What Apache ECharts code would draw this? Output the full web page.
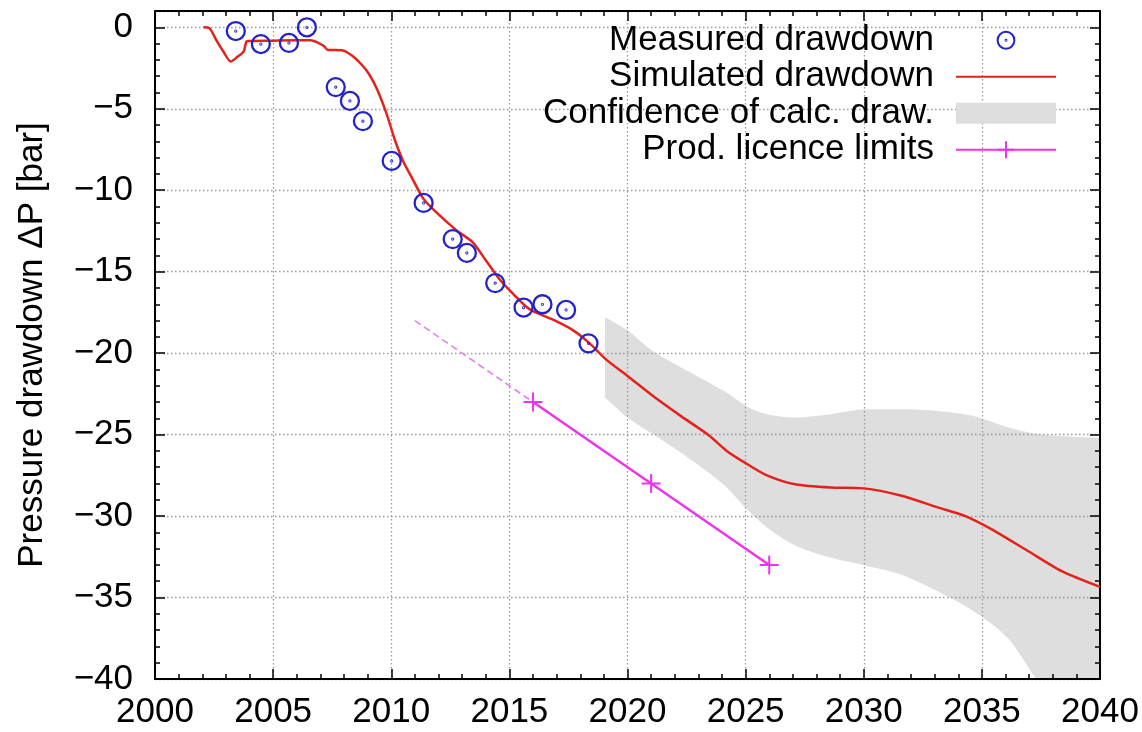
<!DOCTYPE html>
<html><head><meta charset="utf-8">
<script src="https://cdn.jsdelivr.net/npm/echarts@6/dist/echarts.min.js"></script>
<style>html,body{margin:0;padding:0;background:#fff}#c{width:1142px;height:732px}</style>
</head><body><div id="c"></div>
<script>
// ---- data ----
const measuredYears  = [2003.42, 2004.48, 2005.67, 2006.43, 2007.65, 2008.25, 2008.8, 2010.02, 2011.37, 2012.6, 2013.2, 2014.4, 2015.6, 2016.4, 2017.4, 2018.35];
const measuredValues = [-0.23, -1.03, -0.96, 0.0, -3.67, -4.52, -5.76, -8.2, -10.78, -13.0, -13.85, -15.7, -17.2, -17.0, -17.35, -19.4];

const simYears  = [2002.05, 2002.3, 2002.6, 2002.9, 2003.2, 2003.5, 2003.75, 2003.87, 2004.0, 2005, 2006, 2006.6, 2006.9, 2007.15, 2007.3, 2007.95, 2008.35, 2008.75, 2009.05, 2009.4, 2009.8, 2010.15, 2010.5, 2010.9, 2011.35, 2011.9, 2012.75, 2013.45, 2014.0, 2014.6, 2015.15, 2015.85, 2016.85, 2017.7, 2018.4, 2019.1, 2020, 2021.05, 2022.25, 2023.45, 2024.2, 2025, 2025.9, 2027.1, 2028.6, 2030, 2031.6, 2033.1, 2034.3, 2035.4, 2036.9, 2038.4, 2040];
const simValues = [0, -0.05, -0.8, -1.5, -2.1, -1.8, -1.5, -0.88, -0.84, -0.82, -0.8, -0.8, -0.95, -1.15, -1.38, -1.42, -1.75, -2.3, -2.85, -3.8, -5.3, -6.9, -8.2, -9.3, -10.5, -11.35, -12.45, -13.2, -14.3, -15.5, -16.35, -17.3, -17.95, -18.6, -19.4, -20.4, -21.4, -22.6, -23.85, -25.05, -26.0, -26.75, -27.5, -28.05, -28.25, -28.3, -28.75, -29.45, -30.0, -30.8, -32.1, -33.4, -34.35];

const bandYears = [2019.05, 2020, 2021.05, 2022.55, 2024.05, 2025.1, 2025.9, 2027.1, 2028.6, 2030.1, 2031.6, 2033.1, 2034.6, 2036.1, 2037.3, 2038.5, 2040];
const bandUpper = [-17.8, -18.6, -19.85, -21.1, -22.3, -23.3, -23.75, -23.95, -23.75, -23.45, -23.45, -23.55, -23.85, -24.55, -24.95, -25.1, -25.2];
const bandLower = [-22.7, -23.95, -24.95, -26.4, -28.05, -29.65, -30.7, -31.8, -32.55, -33.05, -33.6, -34.6, -35.8, -37.5, -40, -42.3, -44.5];

const licenceYears  = [2016, 2021, 2026];
const licenceValues = [-23, -28, -33];
const trendYears  = [2011, 2016];
const trendValues = [-18, -23];

const xMin = 2000, xMax = 2040, xStep = 5;
const yMin = -40, yMax = 1, yStep = 5;

// ---- chart ----
const FONT = 'Liberation Sans, Arial, Helvetica, sans-serif';
const zip = (a, b) => a.map((v, i) => [v, b[i]]);
const minus = v => String(v).replace('-', '\u2212');
const ring = 'path://M0,10A10,10,0,1,1,20,10A10,10,0,1,1,0,10ZM9.5,10A0.5,0.5,0,1,1,10.5,10A0.5,0.5,0,1,1,9.5,10Z';
const cross = 'path://M0,10L20,10M10,0L10,20';

const axisLine = {show: true, onZero: false, lineStyle: {color: '#000', width: 2}};
const major = {show: true, inside: true, length: 10, lineStyle: {color: '#000', width: 1.5}};
const minorX = {show: true, splitNumber: 5, length: 5, lineStyle: {color: '#000', width: 1.5}};
const minorY = {show: true, inside: true, length: 5, lineStyle: {color: '#000', width: 1.5}};
const grid = {show: true, lineStyle: {color: '#9a9a9a', width: 1.3, type: [1.5, 2.5]}};

const chart = echarts.init(document.getElementById('c'), null, {renderer: 'canvas'});
chart.setOption({
  animation: false,
  backgroundColor: '#fff',
  grid: {left: 155, right: 42, top: 11, bottom: 53, containLabel: false},
  xAxis: [
    {type: 'value', position: 'bottom', min: xMin, max: xMax, interval: xStep, z: 3,
     axisLine, axisTick: major, minorTick: minorX, splitLine: grid,
     axisLabel: {fontFamily: FONT, fontSize: 35, color: '#000', margin: 16, formatter: v => String(v)}},
    {type: 'value', position: 'top', min: xMin, max: xMax, interval: xStep, z: 3,
     axisLine, axisTick: major, minorTick: minorX, splitLine: {show: false},
     axisLabel: {show: false}}
  ],
  yAxis: [
    {type: 'value', position: 'left', min: yMin, max: yMax, interval: yStep, z: 3,
     axisLine, axisTick: major, splitLine: grid,
     axisLabel: {fontFamily: FONT, fontSize: 35, color: '#000', margin: 22,
       formatter: v => (v % yStep === 0 ? minus(v) : '')},
     name: 'Pressure drawdown \u0394P [bar]', nameLocation: 'middle', nameGap: 105,
     nameTextStyle: {fontFamily: FONT, fontSize: 35, color: '#000'}},
    {type: 'value', position: 'left', min: yMin, max: yMax, interval: 1, z: 3,
     axisLine: {show: false}, axisTick: minorY, splitLine: {show: false}, axisLabel: {show: false}},
    {type: 'value', position: 'right', min: yMin, max: yMax, interval: yStep, z: 3,
     axisLine, axisTick: major, splitLine: {show: false}, axisLabel: {show: false}},
    {type: 'value', position: 'right', min: yMin, max: yMax, interval: 1, z: 3,
     axisLine: {show: false}, axisTick: minorY, splitLine: {show: false}, axisLabel: {show: false}}
  ],
  legend: {
    data: [
      {name: 'Measured drawdown'},
      {name: 'Simulated drawdown', itemStyle: {opacity: 0}},
      {name: 'Confidence of calc. draw.', icon: 'rect'},
      {name: 'Prod. licence limits'}
    ],
    orient: 'vertical', align: 'right', right: 85, top: 22, padding: 0, itemGap: 0,
    itemWidth: 100, itemHeight: 21, selectedMode: false,
    textStyle: {fontFamily: FONT, fontSize: 35, color: '#000', lineHeight: 36.5, padding: [0, 17, 0, 0]}
  },
  series: [
    {type: 'line', name: 'Confidence of calc. draw.', data: zip(bandYears, bandUpper), symbol: 'none', smooth: 0.3,
     color: '#dedede', lineStyle: {opacity: 0, width: 0},
     areaStyle: {color: '#dedede', opacity: 1, origin: 'start'}, silent: true, z: 1},
    {type: 'line', name: 'bandLower', data: zip(bandYears, bandLower), symbol: 'none', smooth: 0.3,
     color: '#ffffff', lineStyle: {opacity: 0, width: 0},
     areaStyle: {color: '#ffffff', opacity: 1, origin: 'start'}, silent: true, z: 2},
    {type: 'line', name: 'trend', data: zip(trendYears, trendValues), symbol: 'none',
     lineStyle: {color: '#e386ec', width: 1.6, type: [7, 4]}, z: 4},
    {type: 'line', name: 'Prod. licence limits', data: zip(licenceYears, licenceValues),
     symbol: cross, symbolSize: 19, showSymbol: true, color: '#ee33ee',
     lineStyle: {color: '#ee33ee', width: 2.5},
     itemStyle: {color: '#ee33ee', borderColor: '#ee33ee', borderWidth: 2}, z: 5},
    {type: 'line', name: 'Simulated drawdown', data: zip(simYears, simValues), symbol: 'none', smooth: 0.25,
     color: '#e4221c', lineStyle: {color: '#e4221c', width: 2.5}, z: 5},
    {type: 'line', name: 'Measured drawdown', data: zip(measuredYears, measuredValues),
     symbol: ring, symbolSize: 18, showSymbol: true, color: '#2323cc',
     lineStyle: {opacity: 0, width: 0},
     itemStyle: {color: 'rgba(0,0,0,0)', borderColor: '#2323cc', borderWidth: 2.3}, z: 6}
  ]
});
</script></body></html>
